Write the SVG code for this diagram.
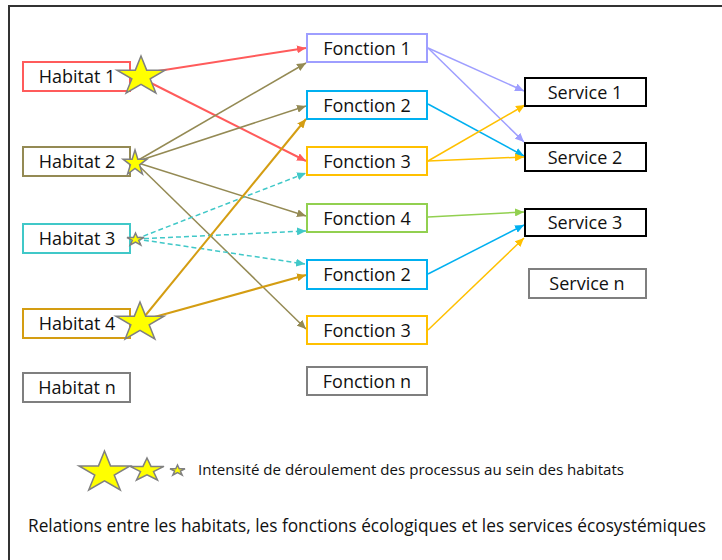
<svg xmlns="http://www.w3.org/2000/svg" xmlns:xlink="http://www.w3.org/1999/xlink" width="722" height="560" viewBox="0 0 722 560">
<style>
  .box{fill:#fff;stroke-width:2}
  .lbl{font-family:"Open Sans","Liberation Sans",Arial,sans-serif;font-size:18px;fill:#111;text-anchor:middle}
  .ln{fill:none}
  .star{fill:#FFFF00;stroke:#808080;stroke-width:1.5}
</style>
<defs>
  <marker id="aRed" markerUnits="userSpaceOnUse" markerWidth="9" markerHeight="8" refX="9" refY="4" orient="auto"><path d="M0,0 L9,4 L0,8 z" fill="#FF5B5B"/></marker>
  <marker id="aOl" markerUnits="userSpaceOnUse" markerWidth="9" markerHeight="8" refX="9" refY="4" orient="auto"><path d="M0,0 L9,4 L0,8 z" fill="#948A54"/></marker>
  <marker id="aCy" markerUnits="userSpaceOnUse" markerWidth="9" markerHeight="8" refX="9" refY="4" orient="auto"><path d="M0,0 L9,4 L0,8 z" fill="#40C8C8"/></marker>
  <marker id="aGd" markerUnits="userSpaceOnUse" markerWidth="9" markerHeight="8" refX="9" refY="4" orient="auto"><path d="M0,0 L9,4 L0,8 z" fill="#D49D12"/></marker>
  <marker id="aLv" markerUnits="userSpaceOnUse" markerWidth="9" markerHeight="8" refX="9" refY="4" orient="auto"><path d="M0,0 L9,4 L0,8 z" fill="#9E9EFF"/></marker>
  <marker id="aBl" markerUnits="userSpaceOnUse" markerWidth="9" markerHeight="8" refX="9" refY="4" orient="auto"><path d="M0,0 L9,4 L0,8 z" fill="#00B0F0"/></marker>
  <marker id="aYl" markerUnits="userSpaceOnUse" markerWidth="9" markerHeight="8" refX="9" refY="4" orient="auto"><path d="M0,0 L9,4 L0,8 z" fill="#FFC000"/></marker>
  <marker id="aGr" markerUnits="userSpaceOnUse" markerWidth="9" markerHeight="8" refX="9" refY="4" orient="auto"><path d="M0,0 L9,4 L0,8 z" fill="#92D050"/></marker>
  <symbol id="star" viewBox="0 0 100 100" preserveAspectRatio="none" overflow="visible">
    <polygon class="star" vector-effect="non-scaling-stroke" points="50,0 61.8,38.2 100,38.2 69.1,61.8 80.9,100 50,76.4 19.1,100 30.9,61.8 0,38.2 38.2,38.2"/>
  </symbol>
</defs>
<rect width="722" height="560" fill="#fff"/>
<path d="M9,560 V6 H722" fill="none" stroke="#333" stroke-width="2"/>

<g id="connectors">
  <!-- Habitat 1 -->
  <line class="ln" x1="145" y1="73" x2="306" y2="48" stroke="#FF5B5B" stroke-width="2" marker-end="url(#aRed)"/>
  <line class="ln" x1="145" y1="80" x2="306" y2="161" stroke="#FF5B5B" stroke-width="2" marker-end="url(#aRed)"/>
  <!-- Habitat 2 -->
  <line class="ln" x1="135" y1="162" x2="306" y2="63" stroke="#948A54" stroke-width="1.5" marker-end="url(#aOl)"/>
  <line class="ln" x1="135" y1="162" x2="306" y2="106" stroke="#948A54" stroke-width="1.5" marker-end="url(#aOl)"/>
  <line class="ln" x1="135" y1="162" x2="306" y2="216" stroke="#948A54" stroke-width="1.5" marker-end="url(#aOl)"/>
  <line class="ln" x1="135" y1="162" x2="306" y2="329" stroke="#948A54" stroke-width="1.5" marker-end="url(#aOl)"/>
  <!-- Habitat 3 -->
  <line class="ln" x1="136" y1="239" x2="306" y2="173" stroke="#40C8C8" stroke-width="1.5" stroke-dasharray="5,3" marker-end="url(#aCy)"/>
  <line class="ln" x1="136" y1="239" x2="306" y2="231" stroke="#40C8C8" stroke-width="1.5" stroke-dasharray="5,3" marker-end="url(#aCy)"/>
  <line class="ln" x1="136" y1="239" x2="305" y2="264" stroke="#40C8C8" stroke-width="1.5" stroke-dasharray="5,3" marker-end="url(#aCy)"/>
  <!-- Habitat 4 -->
  <line class="ln" x1="140" y1="322" x2="306" y2="119" stroke="#D49D12" stroke-width="2" marker-end="url(#aGd)"/>
  <line class="ln" x1="140" y1="321" x2="306" y2="275" stroke="#D49D12" stroke-width="2" marker-end="url(#aGd)"/>
  <!-- Fonctions to services -->
  <line class="ln" x1="428" y1="48" x2="524" y2="91" stroke="#9E9EFF" stroke-width="1.5" marker-end="url(#aLv)"/>
  <line class="ln" x1="428" y1="48" x2="524" y2="142" stroke="#9E9EFF" stroke-width="1.5" marker-end="url(#aLv)"/>
  <line class="ln" x1="428" y1="104" x2="524" y2="156" stroke="#00B0F0" stroke-width="1.5" marker-end="url(#aBl)"/>
  <line class="ln" x1="428" y1="161" x2="525" y2="105" stroke="#FFC000" stroke-width="1.5" marker-end="url(#aYl)"/>
  <line class="ln" x1="428" y1="161" x2="524" y2="157" stroke="#FFC000" stroke-width="1.5" marker-end="url(#aYl)"/>
  <line class="ln" x1="428" y1="217" x2="524" y2="212" stroke="#92D050" stroke-width="1.5" marker-end="url(#aGr)"/>
  <line class="ln" x1="428" y1="274" x2="524" y2="225" stroke="#00B0F0" stroke-width="1.5" marker-end="url(#aBl)"/>
  <line class="ln" x1="428" y1="330" x2="524" y2="238" stroke="#FFC000" stroke-width="1.5" marker-end="url(#aYl)"/>
</g>

<g id="habitat1">
  <rect class="box" x="23" y="62" width="107" height="29" stroke="#FF5B5B"/>
  <text class="lbl" x="77" y="83">Habitat 1</text>
  <use href="#star" x="117" y="56" width="48" height="37"/>
</g>
<g id="habitat2">
  <rect class="box" x="23" y="147" width="107" height="29" stroke="#948A54"/>
  <text class="lbl" x="77" y="168">Habitat 2</text>
  <use href="#star" x="123" y="150" width="24" height="24"/>
</g>
<g id="habitat3">
  <rect class="box" x="23" y="224" width="107" height="29" stroke="#40C8C8"/>
  <text class="lbl" x="77" y="245">Habitat 3</text>
  <use href="#star" x="127" y="233" width="17" height="12"/>
</g>
<g id="habitat4">
  <rect class="box" x="23" y="309" width="107" height="29" stroke="#D49D12"/>
  <text class="lbl" x="77" y="330">Habitat 4</text>
  <use href="#star" x="116" y="302" width="48" height="37"/>
</g>
<g id="habitatn">
  <rect class="box" x="23" y="373" width="107" height="29" stroke="#7F7F7F"/>
  <text class="lbl" x="77" y="394">Habitat n</text>
</g>

<g id="fonction1">
  <rect class="box" x="307" y="34" width="120" height="28" stroke="#9E9EFF"/>
  <text class="lbl" x="367" y="55">Fonction 1</text>
</g>
<g id="fonction2">
  <rect class="box" x="307" y="91" width="120" height="28" stroke="#00B0F0"/>
  <text class="lbl" x="367" y="112">Fonction 2</text>
</g>
<g id="fonction3">
  <rect class="box" x="307" y="147" width="120" height="28" stroke="#FFC000"/>
  <text class="lbl" x="367" y="168">Fonction 3</text>
</g>
<g id="fonction4">
  <rect class="box" x="307" y="204" width="120" height="28" stroke="#92D050"/>
  <text class="lbl" x="367" y="225">Fonction 4</text>
</g>
<g id="fonction2b">
  <rect class="box" x="307" y="260" width="120" height="29" stroke="#00B0F0"/>
  <text class="lbl" x="367" y="281">Fonction 2</text>
</g>
<g id="fonction3b">
  <rect class="box" x="307" y="316" width="120" height="28" stroke="#FFC000"/>
  <text class="lbl" x="367" y="337">Fonction 3</text>
</g>
<g id="fonctionn">
  <rect class="box" x="307" y="367" width="120" height="28" stroke="#7F7F7F"/>
  <text class="lbl" x="367" y="388">Fonction n</text>
</g>

<g id="service1">
  <rect class="box" x="525" y="78" width="121" height="28" stroke="#000" stroke-width="2.5"/>
  <text class="lbl" x="585" y="99">Service 1</text>
</g>
<g id="service2">
  <rect class="box" x="525" y="143" width="121" height="28" stroke="#000" stroke-width="2.5"/>
  <text class="lbl" x="585" y="164">Service 2</text>
</g>
<g id="service3">
  <rect class="box" x="525" y="209" width="121" height="27" stroke="#000" stroke-width="2.5"/>
  <text class="lbl" x="585" y="229">Service 3</text>
</g>
<g id="servicen">
  <rect class="box" x="529" y="269" width="117" height="29" stroke="#7F7F7F"/>
  <text class="lbl" x="587" y="290">Service n</text>
</g>

<g id="legend">
  <use href="#star" x="79" y="451" width="51" height="39"/>
  <use href="#star" x="130" y="458" width="34" height="22"/>
  <use href="#star" x="170" y="465" width="15" height="10"/>
  <text x="198" y="475" font-family="'Open Sans','Liberation Sans',Arial,sans-serif" font-size="14" fill="#111" textLength="426" lengthAdjust="spacingAndGlyphs">Intensité de déroulement des processus au sein des habitats</text>
</g>
<text id="caption" x="28" y="532" font-family="'Open Sans','Liberation Sans',Arial,sans-serif" font-size="17.5" fill="#111" textLength="678" lengthAdjust="spacingAndGlyphs">Relations entre les habitats, les fonctions écologiques et les services écosystémiques</text>
</svg>
